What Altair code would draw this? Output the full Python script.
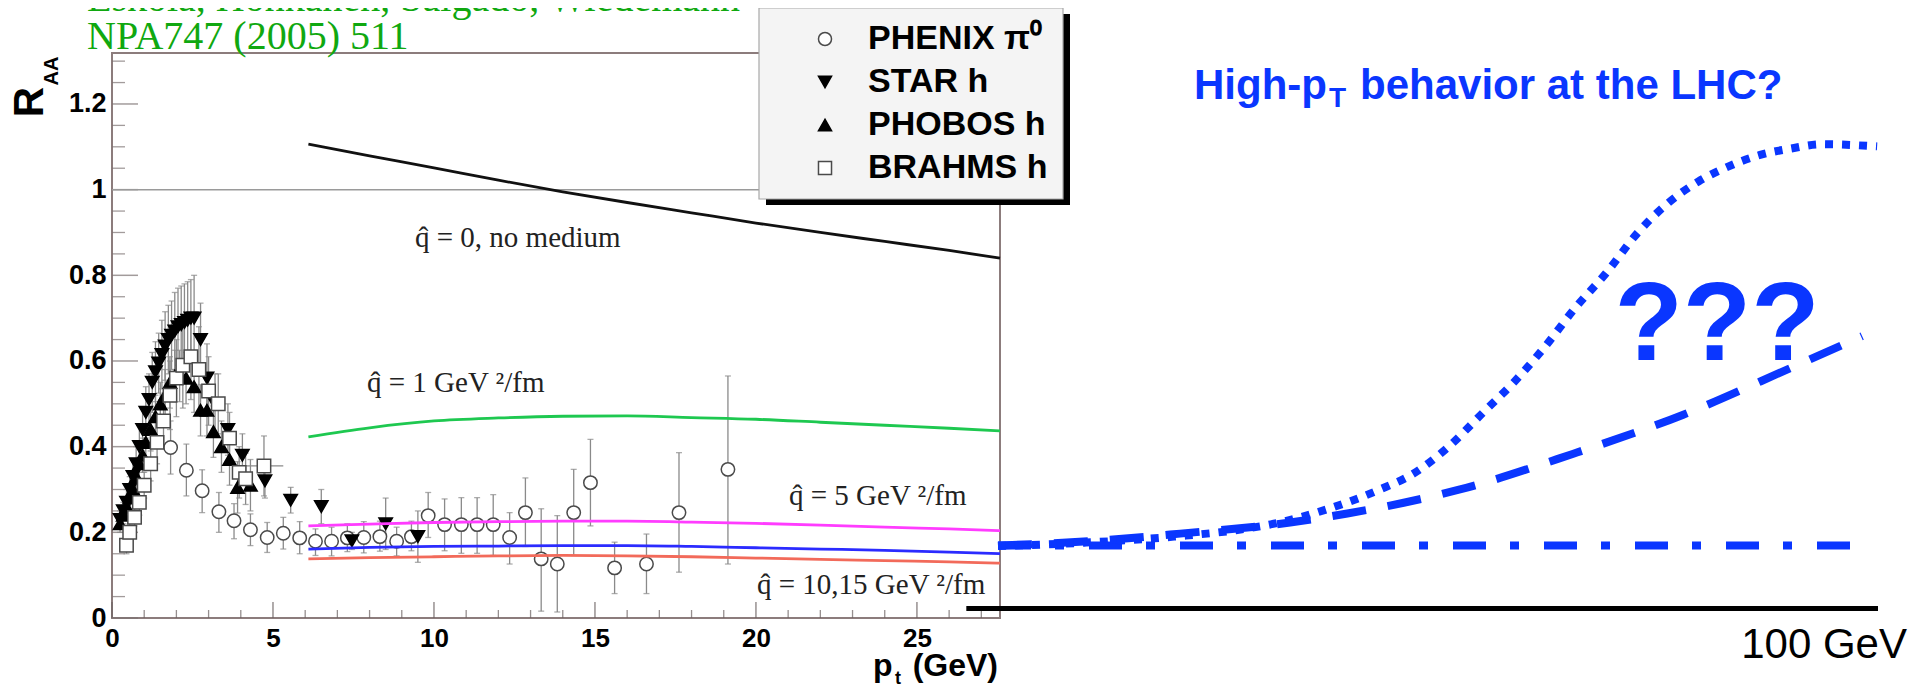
import altair as alt
import pandas as pd

# ---------------- Left panel: RHIC R_AA data ----------------
exps = ["PHENIX π⁰", "STAR h", "PHOBOS h", "BRAHMS h"]

phenix_pt = [1.82, 2.31, 2.80, 3.32, 3.79, 4.30, 4.82, 5.32, 5.83, 6.32, 6.82, 7.31, 7.82, 8.32,
             8.84, 9.30, 9.82, 10.33, 10.85, 11.34, 11.84, 12.35, 12.84, 13.33, 13.83, 14.34,
             14.86, 15.61, 16.60, 17.61, 19.13]
phenix_r = [0.398, 0.345, 0.297, 0.248, 0.227, 0.206, 0.188, 0.198, 0.187, 0.179, 0.179, 0.187,
            0.188, 0.190, 0.179, 0.190, 0.239, 0.218, 0.218, 0.218, 0.218, 0.188, 0.246, 0.138,
            0.126, 0.246, 0.316, 0.117, 0.126, 0.246, 0.347]
phenix_lo = [0.336, 0.285, 0.246, 0.200, 0.185, 0.169, 0.153, 0.161, 0.150, 0.146, 0.145, 0.155,
             0.152, 0.156, 0.145, 0.157, 0.188, 0.157, 0.151, 0.151, 0.146, 0.126, 0.167, 0.016,
             0.014, 0.146, 0.215, 0.057, 0.057, 0.107, 0.126]
phenix_hi = [0.460, 0.406, 0.346, 0.293, 0.267, 0.243, 0.223, 0.235, 0.225, 0.208, 0.212, 0.220,
             0.225, 0.226, 0.212, 0.226, 0.293, 0.278, 0.281, 0.281, 0.288, 0.246, 0.327, 0.255,
             0.239, 0.347, 0.417, 0.177, 0.196, 0.386, 0.565]

star_pt = [0.25, 0.35, 0.45, 0.55, 0.65, 0.75, 0.85, 0.95, 1.05, 1.15, 1.25, 1.35, 1.45, 1.55,
           1.65, 1.75, 1.85, 1.95, 2.05, 2.15, 2.25, 2.35, 2.45, 2.55, 2.75, 2.95, 3.2, 3.6,
           4.05, 4.75, 5.55, 6.5, 7.45, 8.5, 9.5]
star_r = [0.23, 0.25, 0.27, 0.30, 0.33, 0.36, 0.40, 0.44, 0.48, 0.51, 0.55, 0.575, 0.595, 0.615,
          0.635, 0.65, 0.66, 0.67, 0.68, 0.685, 0.69, 0.695, 0.70, 0.70, 0.65, 0.56, 0.50, 0.44,
          0.38, 0.32, 0.275, 0.26, 0.18, 0.22, 0.19]
star_err = [0.02, 0.02, 0.03, 0.03, 0.04, 0.04, 0.05, 0.05, 0.06, 0.06, 0.07, 0.07, 0.07, 0.08,
            0.08, 0.08, 0.08, 0.09, 0.09, 0.09, 0.09, 0.09, 0.09, 0.10, 0.085, 0.08, 0.07, 0.06,
            0.05, 0.04, 0.03, 0.04, 0.02, 0.06, 0.06]

phobos_pt = [0.25, 0.35, 0.45, 0.55, 0.65, 0.75, 0.85, 0.95, 1.05, 1.2, 1.35, 1.5, 1.65, 1.8,
             1.95, 2.1, 2.3, 2.55, 2.75, 2.95, 3.15, 3.4, 3.65, 3.9, 4.3]
phobos_r = [0.22, 0.24, 0.26, 0.28, 0.30, 0.33, 0.36, 0.38, 0.41, 0.44, 0.47, 0.50, 0.52, 0.55,
            0.565, 0.565, 0.56, 0.54, 0.485, 0.485, 0.435, 0.40, 0.37, 0.305, 0.31]
phobos_err = [0.02, 0.02, 0.02, 0.03, 0.03, 0.03, 0.04, 0.04, 0.04, 0.05, 0.05, 0.05, 0.06, 0.06,
              0.06, 0.06, 0.06, 0.06, 0.06, 0.06, 0.06, 0.06, 0.06, 0.06, 0.06]

brahms_pt = [0.45, 0.55, 0.7, 0.85, 1.0, 1.2, 1.4, 1.6, 1.8, 2.0, 2.2, 2.45, 2.7, 3.0, 3.3,
             3.65, 3.95, 4.15, 4.72]
brahms_r = [0.17, 0.20, 0.235, 0.27, 0.31, 0.36, 0.41, 0.46, 0.52, 0.56, 0.59, 0.61, 0.58, 0.53,
            0.50, 0.42, 0.34, 0.325, 0.355]
brahms_err = [0.02, 0.02, 0.02, 0.03, 0.03, 0.04, 0.05, 0.06, 0.08, 0.09, 0.10, 0.10, 0.10, 0.08,
              0.07, 0.06, 0.06, 0.06, 0.07]
brahms_xerr = [0, 0, 0, 0, 0, 0, 0, 0, 0, 0, 0, 0, 0, 0, 0, 0, 0, 0, 0.6]

# theory curves (Eskola et al.)
th_pt = [6.1, 8, 10, 12, 14, 16, 18, 20, 22, 24, 26, 27.58]
th_q0 = [1.106, 1.079, 1.051, 1.022, 0.995, 0.970, 0.946, 0.922, 0.900, 0.879, 0.858, 0.840]
th_q1 = [0.423, 0.444, 0.460, 0.467, 0.471, 0.472, 0.468, 0.464, 0.457, 0.450, 0.443, 0.437]
th_q5 = [0.215, 0.219, 0.223, 0.225, 0.226, 0.226, 0.224, 0.221, 0.217, 0.212, 0.208, 0.204]
th_q10 = [0.161, 0.165, 0.167, 0.168, 0.169, 0.169, 0.167, 0.164, 0.161, 0.158, 0.154, 0.150]
th_q15 = [0.138, 0.141, 0.143, 0.145, 0.146, 0.145, 0.143, 0.140, 0.137, 0.134, 0.131, 0.128]
th_names = ["q0", "q1", "q5", "q10", "q15"]
th_colors = ["#111111", "#1ec850", "#ff3cff", "#2b2bff", "#f26a5a"]

# axis ticks
x_major = [0, 5, 10, 15, 20, 25]
x_minor = [1, 2, 3, 4, 6, 7, 8, 9, 11, 12, 13, 14, 16, 17, 18, 19, 21, 22, 23, 24, 26, 27]
y_major = [0, 0.2, 0.4, 0.6, 0.8, 1.0, 1.2]
y_minor = [0.05, 0.1, 0.15, 0.25, 0.3, 0.35, 0.45, 0.5, 0.55, 0.65, 0.7, 0.75, 0.85, 0.9,
           0.95, 1.05, 1.1, 1.15, 1.25, 1.3]

# ---------------- Right panel: LHC speculation sketch ----------------
lhc_dot_pt = [0, 10, 20, 27, 32, 37.7, 43.4, 47.2, 51.1, 55.1, 58.6, 62.1, 65.6, 69.1, 72.6,
              76.1, 79.6, 83.1, 86.6, 90.1, 93.6, 99.9]
lhc_dot_r = [0.168, 0.176, 0.190, 0.205, 0.223, 0.256, 0.300, 0.337, 0.398, 0.479, 0.550, 0.632,
             0.724, 0.805, 0.897, 0.968, 1.019, 1.055, 1.081, 1.096, 1.106, 1.101]
lhc_dash_pt = [0, 11.6, 20.7, 33.2, 39.7, 46.1, 52.5, 65.3, 77.8, 90.0, 98.2]
lhc_dash_r = [0.169, 0.181, 0.197, 0.223, 0.244, 0.269, 0.300, 0.383, 0.474, 0.583, 0.658]
lhc_flat_pt = [0, 97.4]
lhc_flat_r = [0.1695, 0.1695]
lhc_axis_pt = [-3.6, 100]
lhc_axis_r = [0.022, 0.022]

# ---------------- build tables ----------------
pts_rows, err_rows = [], []
for pt, r, lo, hi in zip(phenix_pt, phenix_r, phenix_lo, phenix_hi):
    pts_rows.append(dict(exp=exps[0], pt=pt, r=r))
    err_rows.append(dict(pt=pt, lo=lo, hi=hi))
for name, P, R, E in [(exps[1], star_pt, star_r, star_err),
                      (exps[2], phobos_pt, phobos_r, phobos_err),
                      (exps[3], brahms_pt, brahms_r, brahms_err)]:
    for pt, r, e in zip(P, R, E):
        pts_rows.append(dict(exp=name, pt=pt, r=r))
        err_rows.append(dict(pt=pt, lo=r - e, hi=r + e))
pts = pd.DataFrame(pts_rows)
errs = pd.DataFrame(err_rows)
xerr = pd.DataFrame([dict(r=r, x0=p - e, x1=p + e)
                     for p, r, e in zip(brahms_pt, brahms_r, brahms_xerr) if e > 0])

th_rows = []
for nm, vals in zip(th_names, [th_q0, th_q1, th_q5, th_q10, th_q15]):
    for p, v in zip(th_pt, vals):
        th_rows.append(dict(model=nm, pt=p, r=v))
theory = pd.DataFrame(th_rows)

W, H = 888, 565
xs = alt.Scale(domain=[0, 27.58], nice=False, zero=False)
ys = alt.Scale(domain=[0, 1.319], nice=False, zero=False)
xl = alt.Scale(domain=[0, 100], range=[886, 1766], nice=False, zero=False)
BLUE = "#0a36ff"
one = pd.DataFrame({"k": [0]})

xaxis = alt.Axis(values=x_major, ticks=False, domain=False, grid=False, title=None,
                 labelFont="Liberation Sans", labelFontSize=26, labelFontWeight="bold",
                 labelColor="black", labelPadding=7, labelFlush=False)
yaxis = alt.Axis(values=y_major, format=".1~f", ticks=False, domain=False, grid=False,
                 title=None, labelFont="Liberation Sans", labelFontSize=27,
                 labelFontWeight="bold", labelColor="black", labelPadding=6, labelFlush=False)


def X(f, axis=None):
    return alt.X(f, type="quantitative", scale=xs, axis=axis)


def Y(f):
    return alt.Y(f, type="quantitative", scale=ys, axis=yaxis)


def T(s, x, y, size, font="Liberation Sans", color="black", weight="normal",
      align="left", angle=0):
    kw = dict(text=s, fontSize=size, font=font, color=color, fontWeight=weight,
              align=align, baseline="alphabetic")
    if angle:
        kw["angle"] = angle
    return alt.Chart(one).mark_text(**kw).encode(x=alt.value(x), y=alt.value(y))


layers = []

# inward ticks drawn as marks; the major-tick layers carry the axis labels
layers.append(alt.Chart(pd.DataFrame({"t": x_major})).mark_tick(
    orient="vertical", size=16, thickness=1.5, color="#6a6060").encode(
    x=X("t:Q", axis=xaxis), y=alt.value(H - 8)))
layers.append(alt.Chart(pd.DataFrame({"t": x_minor})).mark_tick(
    orient="vertical", size=8, thickness=1.3, color="#6a6060").encode(
    x=X("t:Q"), y=alt.value(H - 4)))
layers.append(alt.Chart(pd.DataFrame({"t": y_major})).mark_tick(
    orient="horizontal", size=26, thickness=1.5, color="#7a7070").encode(
    y=Y("t:Q"), x=alt.value(13)))
layers.append(alt.Chart(pd.DataFrame({"t": y_minor})).mark_tick(
    orient="horizontal", size=13, thickness=1.3, color="#7a7070").encode(
    y=Y("t:Q"), x=alt.value(6.5)))

# R_AA = 1 reference line
layers.append(alt.Chart(pd.DataFrame({"pt": [0, 27.58], "r": [1, 1]})).mark_line(
    color="#9a9a9a", strokeWidth=1.5).encode(x=X("pt:Q"), y=Y("r:Q")))

# error bars
layers.append(alt.Chart(errs).mark_rule(color="#8a8a8a", strokeWidth=1.3).encode(
    x=X("pt:Q"), y=Y("lo:Q"), y2="hi:Q"))
layers.append(alt.Chart(errs).mark_tick(orient="horizontal", size=6, thickness=1.3,
                                        color="#8a8a8a").encode(x=X("pt:Q"), y=Y("lo:Q")))
layers.append(alt.Chart(errs).mark_tick(orient="horizontal", size=6, thickness=1.3,
                                        color="#8a8a8a").encode(x=X("pt:Q"), y=Y("hi:Q")))
layers.append(alt.Chart(xerr).mark_rule(color="#8a8a8a", strokeWidth=1.3).encode(
    x=X("x0:Q"), x2="x1:Q", y=Y("r:Q")))

# legend frame: drop shadow + light box (legend itself drawn transparent on top)
LX, LY, LW, LH = 647, -45, 304, 191
layers.append(alt.Chart(one).mark_rect(color="black").encode(
    x=alt.value(LX + 7), x2=alt.value(LX + LW + 7), y=alt.value(LY + 6), y2=alt.value(LY + LH + 6)))
layers.append(alt.Chart(one).mark_rect(fill="#f4f4f4", stroke="#a8a8a8", strokeWidth=1.2).encode(
    x=alt.value(LX), x2=alt.value(LX + LW), y=alt.value(LY), y2=alt.value(LY + LH)))

# data points with legend
leg = alt.Legend(title=None, orient="none", legendX=LX, legendY=LY,
                 labelFont="Liberation Sans", labelFontSize=34, labelFontWeight="bold",
                 labelColor="black", labelLimit=600, symbolSize=170, symbolStrokeWidth=1.5,
                 padding=14, rowPadding=9, symbolOffset=35, labelOffset=26)
layers.append(alt.Chart(pts).mark_point(size=180, strokeWidth=1.5, opacity=1).encode(
    x=X("pt:Q"), y=Y("r:Q"),
    shape=alt.Shape("exp:N", scale=alt.Scale(domain=exps, range=["circle", "triangle-down",
                                                                    "triangle-up", "square"]),
                    legend=leg),
    fill=alt.Fill("exp:N", scale=alt.Scale(domain=exps, range=["white", "black", "black", "white"]),
                  legend=leg),
    stroke=alt.Stroke("exp:N", scale=alt.Scale(domain=exps,
                                               range=["#4a4a4a", "black", "black", "#4a4a4a"]),
                      legend=leg),
))

# theory curves
layers.append(alt.Chart(theory).mark_line(strokeWidth=2.8, interpolate="monotone").encode(
    x=X("pt:Q"), y=Y("r:Q"), detail="model:N",
    color=alt.Color("model:N", scale=alt.Scale(domain=th_names, range=th_colors), legend=None)))


# right panel sketch
def XL(f):
    return alt.X(f, type="quantitative", scale=xl, axis=None)


layers.append(alt.Chart(pd.DataFrame({"pt": lhc_axis_pt, "r": lhc_axis_r})).mark_line(
    color="black", strokeWidth=5).encode(x=XL("pt:Q"), y=Y("r:Q")))
layers.append(alt.Chart(pd.DataFrame({"pt": lhc_flat_pt, "r": lhc_flat_r})).mark_line(
    color=BLUE, strokeWidth=8, strokeDash=[33, 24, 9, 25], strokeCap="butt").encode(
    x=XL("pt:Q"), y=Y("r:Q")))
layers.append(alt.Chart(pd.DataFrame({"pt": lhc_dash_pt, "r": lhc_dash_r})).mark_line(
    color=BLUE, strokeWidth=8, strokeDash=[34, 22], strokeCap="butt", interpolate="monotone").encode(
    x=XL("pt:Q"), y=Y("r:Q")))
layers.append(alt.Chart(pd.DataFrame({"pt": lhc_dot_pt, "r": lhc_dot_r})).mark_line(
    color=BLUE, strokeWidth=8, strokeDash=[8, 9], strokeCap="butt", interpolate="monotone").encode(
    x=XL("pt:Q"), y=Y("r:Q")))

# annotations
SER = "Liberation Serif"
layers += [
    T("q̂ = 0, no medium", 303, 194, 29, font=SER, color="#222"),
    T("q̂ = 1 GeV ²/fm", 255, 339, 29, font=SER, color="#222"),
    T("q̂ = 5 GeV ²/fm", 677, 452, 29, font=SER, color="#222"),
    T("q̂ = 10,15 GeV ²/fm", 645, 541, 29, font=SER, color="#222"),
    T("Eskola, Honkanen, Salgado, Wiedemann", -25, -42, 40, font=SER, color="#10a810"),
    T("NPA747 (2005) 511", -25, -4, 40, font=SER, color="#10a810"),
    T("R", -69, 49, 42, weight="bold", align="center", angle=270),
    T("AA", -54, 18, 20, weight="bold", align="center", angle=270),
    T("p", 761, 623, 32, weight="bold"),
    T("t", 783, 631, 18, weight="bold"),
    T("(GeV)", 886, 623, 32, weight="bold", align="right"),
    T("High-p", 1082, 46, 42, weight="bold", color=BLUE),
    T("T", 1217, 54, 28, weight="bold", color=BLUE),
    T("behavior at the LHC?", 1248, 46, 42, weight="bold", color=BLUE),
    T("???", 1605, 307, 112, weight="bold", color=BLUE, align="center"),
    T("100 GeV", 1795, 605, 42, align="right"),
]

chart = alt.layer(*layers).resolve_scale(x="independent").properties(
    width=W, height=H,
    autosize=alt.AutoSizeParams(type="none"),
    padding={"left": 104, "top": 45, "right": 917, "bottom": 66},
).configure_view(stroke="#8c7c7c", strokeWidth=2)

chart.save("out.html", embed_options={"renderer": "svg", "actions": False})
